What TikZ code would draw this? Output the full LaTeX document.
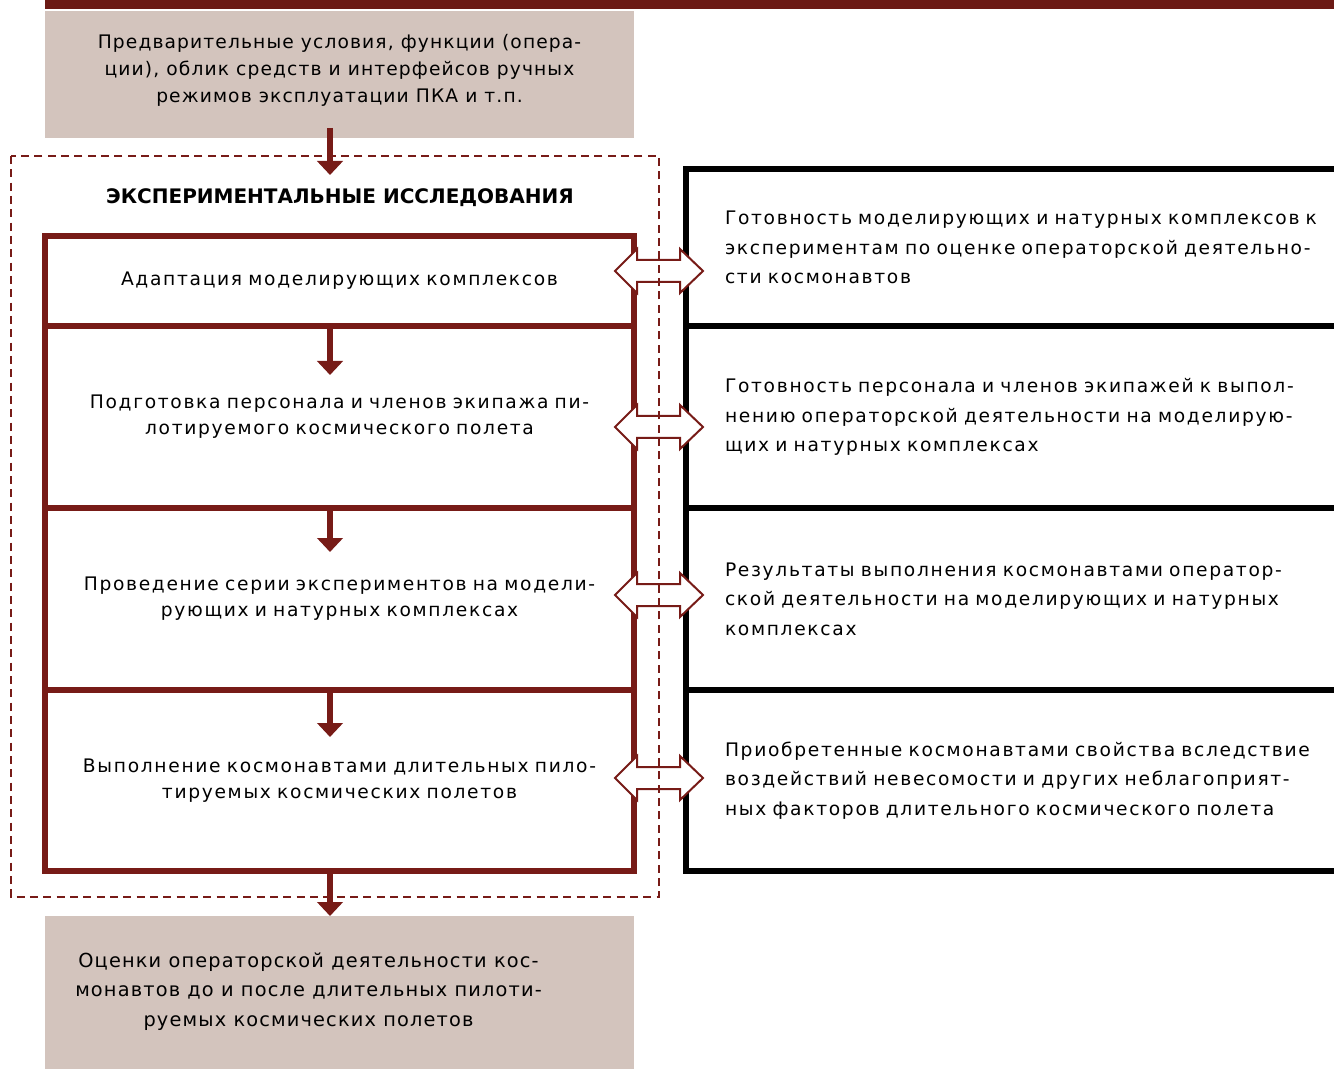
\documentclass[tikz,border=0pt]{standalone}
\usepackage{fontspec}
\usetikzlibrary{arrows.meta}
\newfontfamily\boxfont[LetterSpace=6]{DejaVu Sans}
\newfontfamily\titlefont{DejaVu Sans Bold}
\newfontfamily\secfont[LetterSpace=9]{DejaVu Sans}
\definecolor{dred}{HTML}{771B17}
\definecolor{barred}{HTML}{6C1A15}
\definecolor{boxfill}{HTML}{D3C4BD}
\tikzset{
  greybox/.style={fill=boxfill, draw=none, minimum width=441.75pt, inner sep=0pt},
  lsec/.style={draw=dred, line width=3.8pt, minimum width=441.75pt, inner sep=0pt, align=center, text width=435pt, font=\secfont\fontsize{14}{19.5}\selectfont},
  rsec/.style={draw=black, line width=3.8pt, minimum width=525pt, inner xsep=29.25pt, inner ysep=0pt, align=left, text width=466.5pt, font=\secfont\fontsize{14}{22}\selectfont},
  varrow/.style={draw=dred, line width=4.5pt, -{Triangle[width=19pt,length=10.5pt]}},
  darrowp/.style={draw=dred, fill=white, line width=1.5pt, line join=miter},
  dashbox/.style={draw=dred, line width=1.7pt, dash pattern=on 6pt off 4pt},
}
\begin{document}
\begin{tikzpicture}[x=0.75pt,y=-0.75pt]
\useasboundingbox (0,0) rectangle (1334,1069);
\clip (0,0) rectangle (1334,1069);
% top bar
\fill[barred] (45,0) rectangle (1340,9);
% top box
\node[greybox, minimum height=95.25pt] (tb) at (339.5,74.5) {};
\node[align=center, font=\boxfont\fontsize{14}{20}\selectfont, inner sep=0pt] (tt) at (339.5,70.5)
  {Предварительные условия, функции (опера-\\ции), облик средств и интерфейсов ручных\\режимов эксплуатации ПКА и т.п.};
% bottom box
\node[greybox, minimum height=118pt] (bb) at (339.5,995) {};
\node[align=center, font=\boxfont\fontsize{14.5}{22}\selectfont, inner sep=0pt] (bt) at (308.5,991.5)
  {Оценки операторской деятельности кос-\\монавтов до и после длительных пилоти-\\руемых космических полетов};
% left sections
\node[lsec, minimum height=67.5pt] (l1) at (339.5,281) {Адаптация моделирующих комплексов};
\node[lsec, minimum height=136.5pt] (l2) at (339.5,417) {Подготовка персонала и членов экипажа пи-\\лотируемого космического полета};
\node[lsec, minimum height=136.5pt] (l3) at (339.5,599) {Проведение серии экспериментов на модели-\\рующих и натурных комплексах};
\node[lsec, minimum height=135.75pt] (l4) at (339.5,780.5) {Выполнение космонавтами длительных пило-\\тируемых космических полетов};
% right sections
\node[rsec, minimum height=117.75pt] (r1) at (1036,247.5) {Готовность моделирующих и натурных комплексов к\\экспериментам по оценке операторской деятельно-\\сти космонавтов};
\node[rsec, minimum height=136.5pt] (r2) at (1036,417) {Готовность персонала и членов экипажей к выпол-\\нению операторской деятельности на моделирую-\\щих и натурных комплексах};
\node[rsec, minimum height=136.5pt] (r3) at (1036,599) {Результаты выполнения космонавтами оператор-\\ской деятельности на моделирующих и натурных\\комплексах};
\node[rsec, minimum height=135.75pt] (r4) at (1036,780.5) {Приобретенные космонавтами свойства вследствие\\воздействий невесомости и других неблагоприят-\\ных факторов длительного космического полета};
% title
\node[font=\titlefont\fontsize{15}{18}\selectfont, inner sep=0pt] (title) at (340,198) {ЭКСПЕРИМЕНТАЛЬНЫЕ ИССЛЕДОВАНИЯ};
% vertical arrows
\coordinate (s0) at (330,128);
\coordinate (e0) at (330,175);
\coordinate (e1) at (330,375);
\coordinate (e2) at (330,552);
\coordinate (e3) at (330,737);
\coordinate (e4) at (330,916);
\draw[varrow] (s0) -- (e0);
\draw[varrow] (l1.south -| e1) -- (e1);
\draw[varrow] (l2.south -| e2) -- (e2);
\draw[varrow] (l3.south -| e3) -- (e3);
\draw[varrow] (l4.south -| e4) -- (e4);
% double arrows between the columns
\coordinate (d1) at (659,271);
\coordinate (d2) at (659,427);
\coordinate (d3) at (659,595);
\coordinate (d4) at (659,778);
\foreach \d in {d1,d2,d3,d4}{
  \draw[darrowp, shift={(\d)}] (-44,0) -- (-22,-22) -- (-22,-11) -- (21,-11) -- (21,-22) -- (44,0)
    -- (21,22) -- (21,11) -- (-22,11) -- (-22,22) -- cycle;
}
% dashed frame
\draw[dashbox] (11,156) rectangle (659,897);
\end{tikzpicture}
\end{document}
